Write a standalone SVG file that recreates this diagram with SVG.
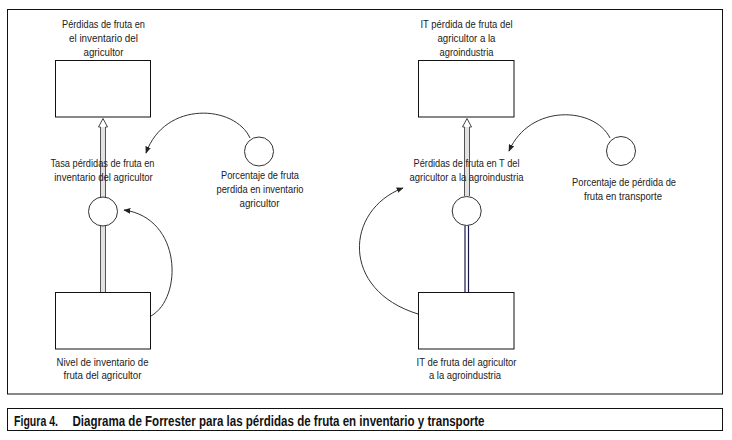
<svg xmlns="http://www.w3.org/2000/svg" width="732" height="440" viewBox="0 0 732 440">
<defs>
<marker id="ah" viewBox="0 0 10 8" refX="9" refY="4" markerWidth="7" markerHeight="5.6" markerUnits="userSpaceOnUse" orient="auto">
<path d="M0,0 L10,4 L0,8 Z" fill="#222"/>
</marker>
<style>
.frame{fill:none;stroke:#111;stroke-width:1}
.box{fill:#fff;stroke:#111;stroke-width:1}
.circ{fill:#fff;stroke:#333;stroke-width:1}
.lbl{font-family:"Liberation Sans Narrow","Liberation Sans",Arial,sans-serif;font-size:11px;fill:#222;text-anchor:middle}
.cap{font-family:"Liberation Sans Narrow","Liberation Sans",Arial,sans-serif;font-size:14.5px;font-weight:bold;fill:#111}
.link{fill:none;stroke:#333;stroke-width:1;marker-end:url(#ah)}
.pipeL{stroke:#555;stroke-width:1}
.pipeN{stroke:#1a1a4a;stroke-width:1.2}
</style>
</defs>
<rect class="frame" x="7.5" y="9.5" width="715" height="384.5"/>
<g id="caption">
<rect class="frame" x="7.5" y="408.5" width="715" height="22"/>
<text class="cap" x="14" y="425.5" textLength="44" lengthAdjust="spacingAndGlyphs">Figura 4.</text>
<text class="cap" x="72.5" y="425.5" textLength="412" lengthAdjust="spacingAndGlyphs">Diagrama de Forrester para las pérdidas de fruta en inventario y transporte</text>
</g>
<g id="connectors">
<rect x="100.5" y="226" width="5" height="66" fill="#e2e2e2"/>
<line class="pipeL" x1="100.5" y1="226" x2="100.5" y2="292"/>
<line class="pipeL" x1="105.5" y1="226" x2="105.5" y2="292"/>
<rect x="100.5" y="127" width="5" height="70" fill="#e2e2e2"/>
<line class="pipeL" x1="100.5" y1="127" x2="100.5" y2="197"/>
<line class="pipeL" x1="105.5" y1="127" x2="105.5" y2="197"/>
<path d="M100.5,127 L98.5,127 L103,118.5 L107.5,127 L105.5,127" fill="#fff" stroke="#444" stroke-width="1"/>
<rect x="465" y="225.5" width="3.5" height="67" fill="#fff"/>
<line class="pipeN" x1="465" y1="225.5" x2="465" y2="292"/>
<line class="pipeN" x1="468.5" y1="225.5" x2="468.5" y2="292"/>
<rect x="464.5" y="127" width="5" height="69" fill="#e2e2e2"/>
<line class="pipeL" x1="464.5" y1="127" x2="464.5" y2="196"/>
<line class="pipeL" x1="469.5" y1="127" x2="469.5" y2="196"/>
<path d="M464.5,127 L462.5,127 L467,118.5 L471.5,127 L469.5,127" fill="#fff" stroke="#444" stroke-width="1"/>
<path class="link" d="M250,138 C235,105 165,100 146,153"/>
<path class="link" d="M151,316 C183,298 182,218 124,210"/>
<path class="link" d="M610,138 C595,107 530,103 509,151"/>
<path class="link" d="M418,314 C340,290 345,210 403,188"/>
</g>
<g id="stock-perdidas-inventario">
<rect class="box" x="55.5" y="60.5" width="95" height="56.5"/>
<text class="lbl" x="103.5" y="28" textLength="83" lengthAdjust="spacingAndGlyphs">Pérdidas de fruta en</text>
<text class="lbl" x="103.5" y="42" textLength="69" lengthAdjust="spacingAndGlyphs">el inventario del</text>
<text class="lbl" x="103.5" y="55.5" textLength="40" lengthAdjust="spacingAndGlyphs">agricultor</text>
</g>
<g id="rate-tasa-perdidas">
<circle class="circ" cx="103" cy="211.5" r="14.5"/>
<text class="lbl" x="102.5" y="167" textLength="104" lengthAdjust="spacingAndGlyphs">Tasa pérdidas de fruta en</text>
<text class="lbl" x="103.5" y="180.5" textLength="98.5" lengthAdjust="spacingAndGlyphs">inventario del agricultor</text>
</g>
<g id="aux-porcentaje-inventario">
<circle class="circ" cx="259" cy="151.5" r="14.5"/>
<text class="lbl" x="260" y="179" textLength="78" lengthAdjust="spacingAndGlyphs">Porcentaje de fruta</text>
<text class="lbl" x="260" y="193" textLength="87" lengthAdjust="spacingAndGlyphs">perdida en inventario</text>
<text class="lbl" x="259.5" y="207" textLength="40" lengthAdjust="spacingAndGlyphs">agricultor</text>
</g>
<g id="stock-nivel-inventario">
<rect class="box" x="55.5" y="292.5" width="95" height="56.5"/>
<text class="lbl" x="102.5" y="366" textLength="92" lengthAdjust="spacingAndGlyphs">Nivel de inventario de</text>
<text class="lbl" x="102.5" y="379" textLength="78" lengthAdjust="spacingAndGlyphs">fruta del agricultor</text>
</g>
<g id="stock-it-perdida">
<rect class="box" x="418.5" y="60.5" width="95.5" height="56.5"/>
<text class="lbl" x="466.5" y="28" textLength="92" lengthAdjust="spacingAndGlyphs">IT pérdida de fruta del</text>
<text class="lbl" x="466.5" y="42" textLength="58" lengthAdjust="spacingAndGlyphs">agricultor a la</text>
<text class="lbl" x="466.5" y="55.5" textLength="54" lengthAdjust="spacingAndGlyphs">agroindustria</text>
</g>
<g id="rate-perdidas-transporte">
<circle class="circ" cx="466.7" cy="211" r="14.5"/>
<text class="lbl" x="466.5" y="167" textLength="106" lengthAdjust="spacingAndGlyphs">Pérdidas de fruta en T del</text>
<text class="lbl" x="466.5" y="180.5" textLength="114" lengthAdjust="spacingAndGlyphs">agricultor a la agroindustria</text>
</g>
<g id="aux-porcentaje-transporte">
<circle class="circ" cx="621" cy="151" r="14.5"/>
<text class="lbl" x="624" y="186" textLength="104" lengthAdjust="spacingAndGlyphs">Porcentaje de pérdida de</text>
<text class="lbl" x="623" y="199.5" textLength="78" lengthAdjust="spacingAndGlyphs">fruta en transporte</text>
</g>
<g id="stock-it-fruta">
<rect class="box" x="418.5" y="292.5" width="95.5" height="56.5"/>
<text class="lbl" x="466.5" y="366" textLength="100" lengthAdjust="spacingAndGlyphs">IT de fruta del agricultor</text>
<text class="lbl" x="465" y="379" textLength="72" lengthAdjust="spacingAndGlyphs">a la agroindustria</text>
</g>
</svg>
